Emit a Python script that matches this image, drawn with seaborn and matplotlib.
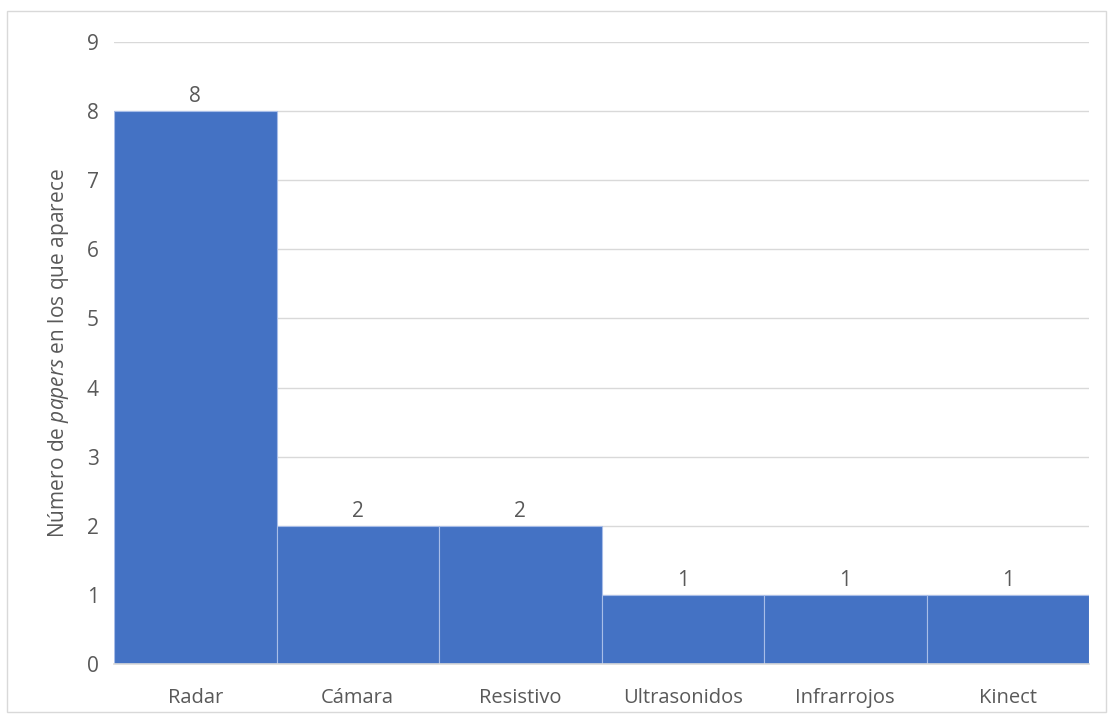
import matplotlib
matplotlib.use("Agg")
import matplotlib.pyplot as plt
import seaborn as sns
import pandas as pd
from matplotlib.patches import Rectangle

categorias = ["Radar", "Cámara", "Resistivo", "Ultrasonidos", "Infrarrojos", "Kinect"]
num_papers = [8, 2, 2, 1, 1, 1]
yticks = [0, 1, 2, 3, 4, 5, 6, 7, 8, 9]

sns.set_theme(style="white")
plt.rcParams["font.family"] = ["Open Sans", "DejaVu Sans"]
plt.rcParams["mathtext.fontset"] = "custom"
plt.rcParams["mathtext.it"] = "Open Sans:italic"
plt.rcParams["mathtext.rm"] = "Open Sans"

texto = "#595959"
azul = "#4472C4"
gris = "#D9D9D9"

df = pd.DataFrame({"categoria": categorias, "papers": num_papers})

fig = plt.figure(figsize=(11.13, 7.18), dpi=100)
ax = fig.add_axes([114 / 1113, 1 - 664 / 718, (1089 - 114) / 1113, (664 - 42) / 718])

sns.barplot(data=df, x="categoria", y="papers", color=azul, saturation=1,
            width=1.0, edgecolor="#A8BDE8", linewidth=0.8, ax=ax, zorder=3)

ax.set_ylim(0, 9)
ax.set_xlim(-0.5, len(categorias) - 0.5)
ax.set_yticks(yticks)
ax.yaxis.grid(True, color=gris, linewidth=1.0, zorder=0)
ax.set_axisbelow(True)
for s in ["top", "right", "left"]:
    ax.spines[s].set_visible(False)
ax.spines["bottom"].set_color(gris)
ax.spines["bottom"].set_linewidth(1.2)
ax.spines["bottom"].set_zorder(4)

ax.tick_params(axis="both", length=0, colors=texto)
ax.tick_params(axis="x", pad=17, labelsize=14.5)
ax.tick_params(axis="y", pad=11, labelsize=15)
ax.set_xlabel("")
ax.set_ylabel("Número de $\\mathit{papers}$ en los que aparece",
              color=texto, fontsize=15, labelpad=11)

for cont in ax.containers:
    ax.bar_label(cont, labels=[str(v) for v in num_papers], color=texto,
                 fontsize=15, padding=3)

fig.patches.append(Rectangle((7 / 1113, 1 - 712 / 718), (1106 - 7) / 1113, (712 - 11) / 718,
                             transform=fig.transFigure, fill=False,
                             edgecolor="#D9D9D9", linewidth=1.0))

fig.savefig("out.png", dpi=100, facecolor="white")
